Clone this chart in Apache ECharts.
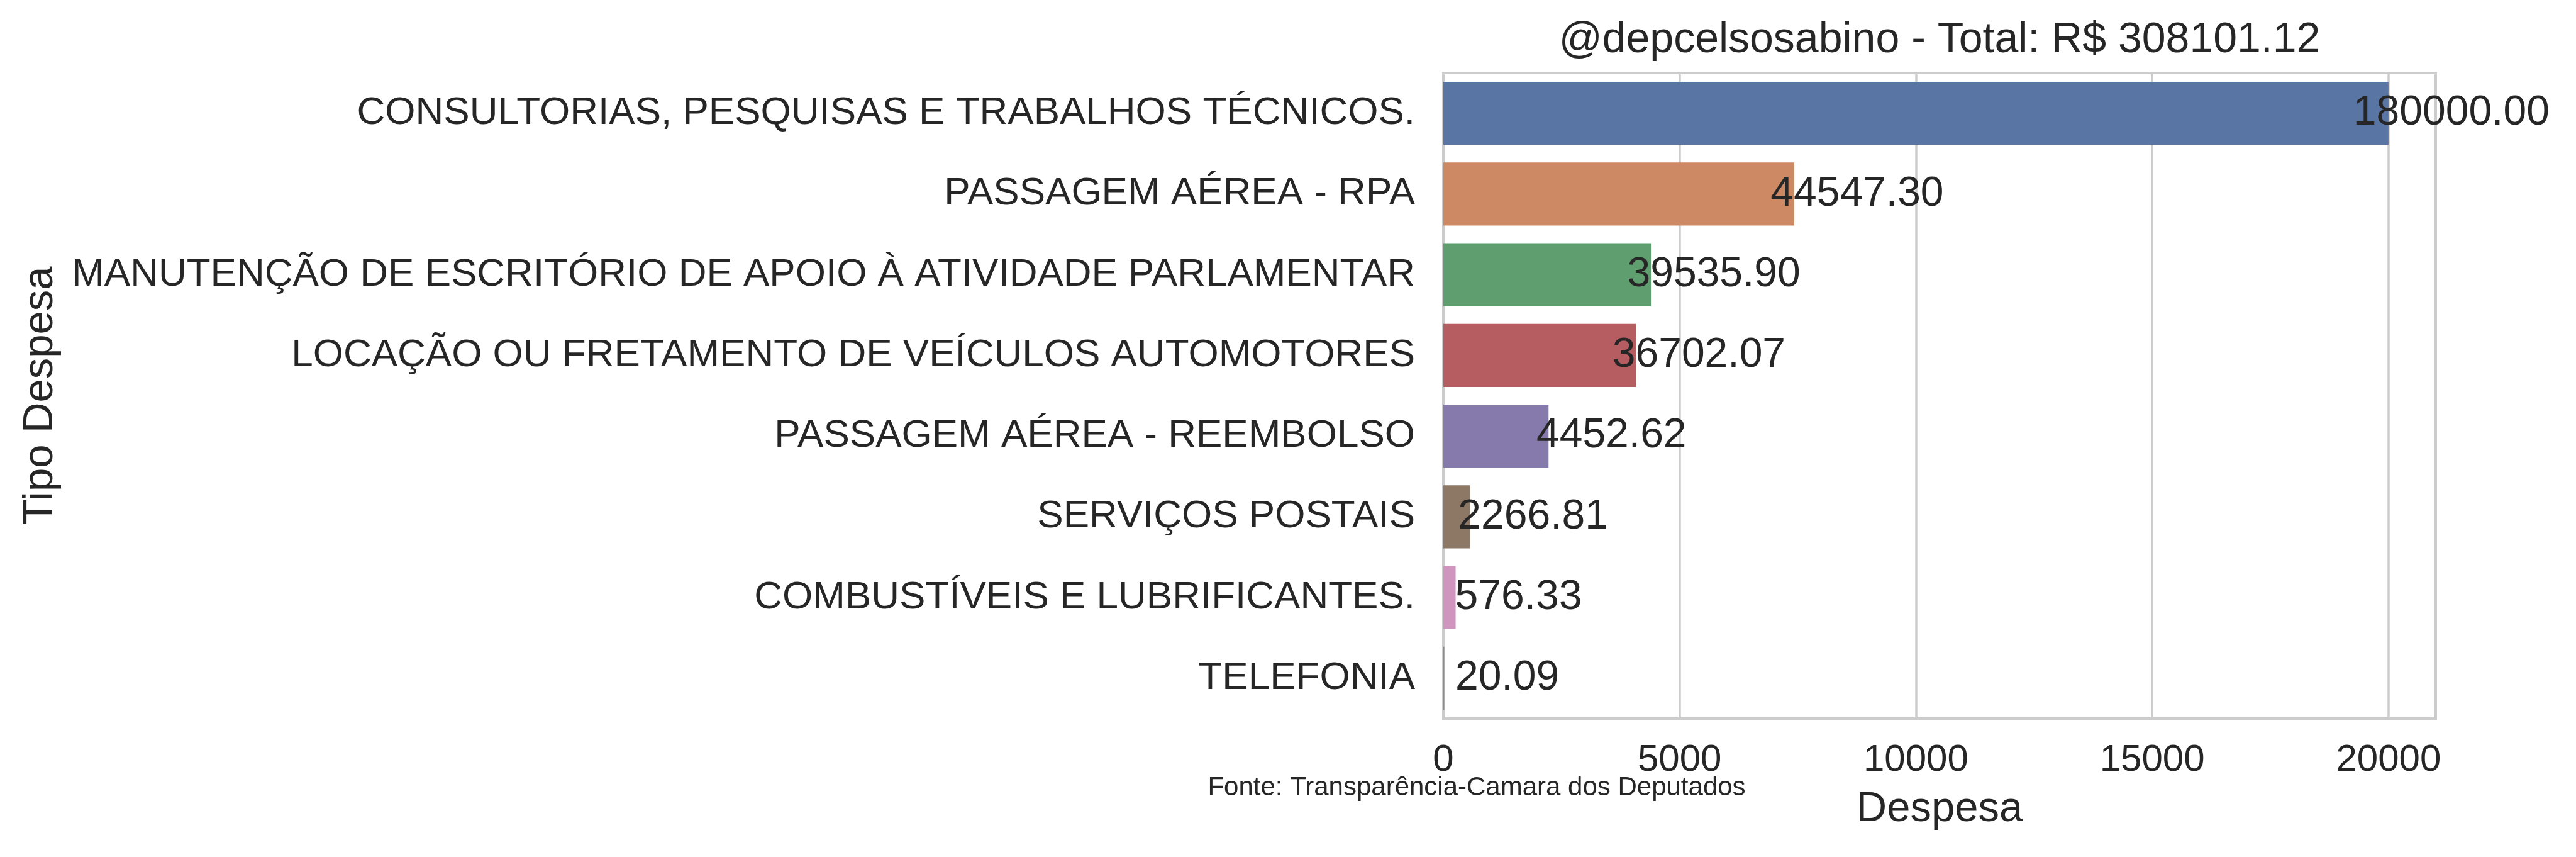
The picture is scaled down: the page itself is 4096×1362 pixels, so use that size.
<!DOCTYPE html>
<html>
<head>
<meta charset="utf-8">
<script src="https://cdn.jsdelivr.net/npm/echarts@6/dist/echarts.min.js"></script>
<style>
html,body{margin:0;padding:0;background:#fff;}
#chart{width:4096px;height:1362px;}
</style>
</head>
<body>
<div id="chart"></div>
<script>
// Data
const categories = [
  'CONSULTORIAS, PESQUISAS E TRABALHOS TÉCNICOS.',
  'PASSAGEM AÉREA - RPA',
  'MANUTENÇÃO DE ESCRITÓRIO DE APOIO À ATIVIDADE PARLAMENTAR',
  'LOCAÇÃO OU FRETAMENTO DE VEÍCULOS AUTOMOTORES',
  'PASSAGEM AÉREA - REEMBOLSO',
  'SERVIÇOS POSTAIS',
  'COMBUSTÍVEIS E LUBRIFICANTES.',
  'TELEFONIA'
];
// bar lengths (as drawn)
const barValues = [20000, 7425, 4393, 4078, 2226, 567, 260, 20];
// totals written as labels
const totalLabels = ['180000.00', '44547.30', '39535.90', '36702.07', '4452.62', '2266.81', '576.33', '20.09'];
const barColors = ['#5975a4', '#cc8963', '#5f9e6e', '#b55d60', '#857aab', '#8d7866', '#d095bf', '#8c8c8c'];
const xTicks = [0, 5000, 10000, 15000, 20000];
const titleText = '@depcelsosabino - Total: R$ 308101.12';
const sourceText = 'Fonte: Transparência-Camara dos Deputados';

const FONT = '"Liberation Sans", Arial, sans-serif';
const TXT = '#262626';

const chart = echarts.init(document.getElementById('chart'));
chart.setOption({
  animation: false,
  backgroundColor: '#ffffff',
  title: {
    text: titleText,
    left: 3084,
    top: 64,
    padding: 0,
    textAlign: 'center',
    textVerticalAlign: 'middle',
    textStyle: { fontFamily: FONT, fontSize: 68, fontWeight: 'normal', color: TXT, lineHeight: 68 }
  },
  grid: {
    left: 2295, right: 223, top: 116, bottom: 220,
    show: true, borderColor: '#cccccc', borderWidth: 4, backgroundColor: 'transparent'
  },
  xAxis: {
    type: 'value',
    min: 0, max: 21000, interval: 5000,
    name: 'Despesa',
    nameLocation: 'middle',
    nameGap: 111,
    nameMoveOverlap: false,
    nameTextStyle: { fontFamily: FONT, fontSize: 67, color: TXT, lineHeight: 67, verticalAlign: 'top' },
    axisLine: { show: false },
    axisTick: { show: false },
    axisLabel: {
      margin: 36,
      fontFamily: FONT, fontSize: 60, color: TXT, lineHeight: 60,
      formatter: v => xTicks.includes(v) ? String(v) : ''
    },
    splitLine: { show: true, lineStyle: { color: '#cccccc', width: 3.5 } }
  },
  yAxis: {
    type: 'category',
    data: categories,
    inverse: true,
    name: 'Tipo Despesa',
    nameLocation: 'middle',
    nameGap: 2197,
    nameMoveOverlap: false,
    nameTextStyle: { fontFamily: FONT, fontSize: 67, color: TXT, lineHeight: 67 },
    axisLine: { show: false },
    axisTick: { show: false },
    splitLine: { show: false },
    axisLabel: { margin: 45, fontFamily: FONT, fontSize: 62, color: TXT, lineHeight: 62 }
  },
  series: [{
    type: 'bar',
    barWidth: '78%',
    data: barValues.map((v, i) => ({ value: v, itemStyle: { color: barColors[i] } })),
    label: {
      show: true,
      position: 'right',
      distance: 100,
      align: 'center',
      verticalAlign: 'middle',
      fontFamily: FONT, fontSize: 66, color: TXT,
      formatter: p => totalLabels[p.dataIndex]
    }
  }],
  graphic: [{
    type: 'text',
    x: 2348, y: 1252,
    style: {
      text: sourceText,
      font: '42px ' + FONT,
      fill: TXT,
      textAlign: 'center',
      textVerticalAlign: 'middle'
    }
  }]
});
</script>
</body>
</html>
